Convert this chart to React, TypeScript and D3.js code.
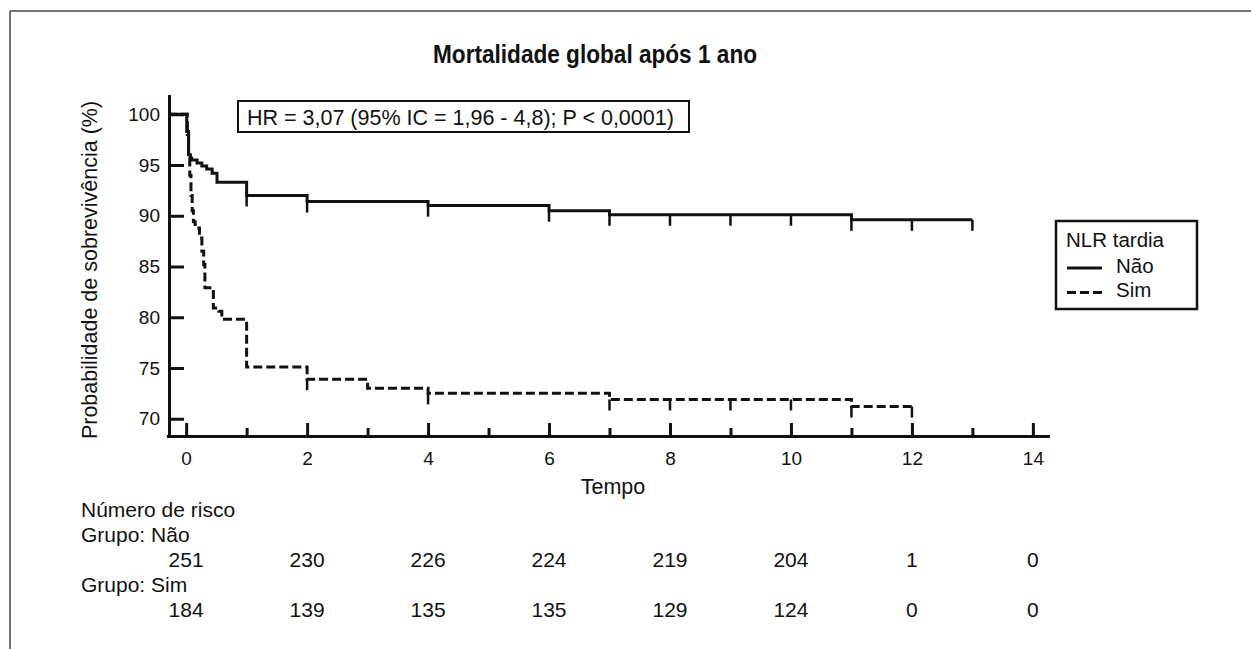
import React, { useEffect, useRef } from 'react';
import * as d3 from 'd3';

const W = 1251;
const H = 649;

// Kaplan-Meier steps: [tempo, sobrevivência %]
const naoSteps: [number, number][] = [
  [-0.3, 100], [0.01, 98.3], [0.04, 96.0], [0.07, 95.7], [0.09, 95.5],
  [0.18, 95.2], [0.26, 94.9], [0.34, 94.6], [0.43, 94.2], [0.51, 93.3],
  [1, 92.0], [2, 91.4], [4, 91.0], [6, 90.5], [7, 90.1], [11, 89.6], [13, 89.6]
];
const simSteps: [number, number][] = [
  [-0.3, 100], [0.02, 98], [0.04, 96], [0.06, 94], [0.08, 92], [0.1, 90.5],
  [0.12, 89.4], [0.15, 88.8], [0.22, 87.8], [0.26, 86.5], [0.29, 85.2],
  [0.31, 82.9], [0.45, 80.9], [0.54, 80.6], [0.59, 79.8], [1, 75.1],
  [2, 73.9], [3, 73.0], [4, 72.5], [7, 71.9], [11, 71.2], [12, 71.2]
];
const naoCensored = [1, 2, 4, 6, 7, 8, 9, 10, 11, 12, 13];
const simCensored = [2, 4, 7, 8, 9, 10, 11, 12];

const majorTicks = [0, 2, 4, 6, 8, 10, 12, 14];
const minorTicks = [1, 3, 5, 7, 9, 11, 13];
const yTicks = [70, 75, 80, 85, 90, 95, 100];

const riskTimes = [0, 2, 4, 6, 8, 10, 12, 14];
const riskNao = [251, 230, 226, 224, 219, 204, 1, 0];
const riskSim = [184, 139, 135, 135, 129, 124, 0, 0];

const FONT = "'Liberation Sans', Arial, Helvetica, sans-serif";
const INK = '#111';

const survAt = (steps: [number, number][], t: number) => {
  let v = steps[0][1];
  steps.forEach(([tt, s]) => { if (tt <= t + 1e-9) v = s; });
  return v;
};

const KaplanMeier = () => {
  const svgRef = useRef<SVGSVGElement>(null);

  useEffect(() => {
    const svg = d3.select(svgRef.current);
    svg.selectAll('*').remove();

    const x = d3.scaleLinear().domain([-0.3, 14.25]).range([168, 1048]);
    const y = d3.scaleLinear().domain([68.3, 101.8]).range([436, 96]);

    // outer frame (top + left)
    svg.append('line').attr('x1', 10).attr('x2', W).attr('y1', 11).attr('y2', 11)
      .attr('stroke', '#444').attr('stroke-width', 1.5);
    svg.append('line').attr('x1', 10).attr('x2', 10).attr('y1', 11).attr('y2', H)
      .attr('stroke', '#444').attr('stroke-width', 1.5);

    // title
    svg.append('text')
      .attr('x', 595).attr('y', 63)
      .attr('text-anchor', 'middle')
      .attr('font-family', FONT).attr('font-weight', 'bold').attr('font-size', 25.5)
      .attr('textLength', 324).attr('lengthAdjust', 'spacingAndGlyphs')
      .attr('fill', INK)
      .text('Mortalidade global após 1 ano');

    // axes
    const styleAxis = (g: any) => {
      g.selectAll('path, line').attr('stroke', INK).attr('stroke-width', 3);
      g.select('.domain').attr('stroke-linecap', 'square');
      g.selectAll('text').attr('font-family', FONT).attr('font-size', 19).attr('fill', INK);
    };

    const xAxis = svg.append('g').attr('transform', 'translate(0,436)')
      .call(d3.axisBottom(x).tickValues(majorTicks).tickSizeInner(-13).tickSizeOuter(0)
        .tickPadding(16).tickFormat(d3.format('d')));
    styleAxis(xAxis);

    const xMinor = svg.append('g').attr('transform', 'translate(0,436)')
      .call(d3.axisBottom(x).tickValues(minorTicks).tickSizeInner(-8).tickSizeOuter(0)
        .tickFormat(() => ''));
    xMinor.select('.domain').remove();
    styleAxis(xMinor);

    const yAxis = svg.append('g').attr('transform', 'translate(169,0)')
      .call(d3.axisLeft(y).tickValues(yTicks).tickSizeInner(-15).tickSizeOuter(0).tickPadding(9));
    styleAxis(yAxis);

    // axis labels
    svg.append('text')
      .attr('x', 613).attr('y', 494)
      .attr('text-anchor', 'middle')
      .attr('font-family', FONT).attr('font-size', 21.5).attr('fill', INK)
      .text('Tempo');

    svg.append('text')
      .attr('transform', 'translate(97,270) rotate(-90)')
      .attr('text-anchor', 'middle')
      .attr('font-family', FONT).attr('font-size', 21.5).attr('fill', INK)
      .text('Probabilidade de sobrevivência (%)');

    // survival curves
    const line = d3.line<[number, number]>()
      .x(d => x(d[0]))
      .y(d => y(d[1]))
      .curve(d3.curveStepAfter);

    svg.append('path').datum(naoSteps)
      .attr('d', line).attr('fill', 'none')
      .attr('stroke', INK).attr('stroke-width', 3);

    svg.append('path').datum(simSteps)
      .attr('d', line).attr('fill', 'none')
      .attr('stroke', INK).attr('stroke-width', 3)
      .attr('stroke-dasharray', '9,4');

    // censor marks
    const censor = (steps: [number, number][], times: number[]) => {
      svg.append('g').selectAll('line').data(times).join('line')
        .attr('x1', d => x(d)).attr('x2', d => x(d))
        .attr('y1', d => y(survAt(steps, d)))
        .attr('y2', d => y(survAt(steps, d)) + 11)
        .attr('stroke', INK).attr('stroke-width', 2.5);
    };
    censor(naoSteps, naoCensored);
    censor(simSteps, simCensored);

    // HR box
    svg.append('rect')
      .attr('x', 238).attr('y', 101).attr('width', 451).attr('height', 31)
      .attr('fill', 'white').attr('stroke', INK).attr('stroke-width', 2);
    svg.append('text')
      .attr('x', 247).attr('y', 125)
      .attr('font-family', FONT).attr('font-size', 21.5).attr('fill', INK)
      .text('HR = 3,07 (95% IC = 1,96 - 4,8); P < 0,0001)');

    // legend
    const legend = svg.append('g');
    legend.append('rect')
      .attr('x', 1056).attr('y', 221).attr('width', 141).attr('height', 88)
      .attr('fill', 'white').attr('stroke', INK).attr('stroke-width', 2.5);
    legend.append('text')
      .attr('x', 1066).attr('y', 247)
      .attr('font-family', FONT).attr('font-size', 20.5).attr('fill', INK)
      .text('NLR tardia');
    ['Não', 'Sim'].forEach((g, i) => {
      legend.append('line')
        .attr('x1', 1067).attr('x2', 1102)
        .attr('y1', 268 + i * 24.5).attr('y2', 268 + i * 24.5)
        .attr('stroke', INK).attr('stroke-width', 3)
        .attr('stroke-dasharray', i === 1 ? '9,4' : null);
      legend.append('text')
        .attr('x', 1116).attr('y', 272.5 + i * 24.5)
        .attr('font-family', FONT).attr('font-size', 20.5).attr('fill', INK)
        .text(g);
    });

    // number at risk table
    const risk = svg.append('g')
      .attr('font-family', FONT).attr('font-size', 21).attr('fill', INK);
    risk.append('text').attr('x', 81).attr('y', 517).text('Número de risco');
    risk.append('text').attr('x', 81).attr('y', 542).text('Grupo: Não');
    risk.append('text').attr('x', 81).attr('y', 592).text('Grupo: Sim');
    risk.append('g').selectAll('text').data(riskNao).join('text')
      .attr('x', (d, i) => x(riskTimes[i])).attr('y', 567)
      .attr('text-anchor', 'middle').text(d => d);
    risk.append('g').selectAll('text').data(riskSim).join('text')
      .attr('x', (d, i) => x(riskTimes[i])).attr('y', 617)
      .attr('text-anchor', 'middle').text(d => d);
  }, []);

  return (
    <svg ref={svgRef} width={W} height={H}
      style={{ position: 'absolute', left: 0, top: 0, background: 'white' }} />
  );
};

export default function App() {
  return <KaplanMeier />;
}
